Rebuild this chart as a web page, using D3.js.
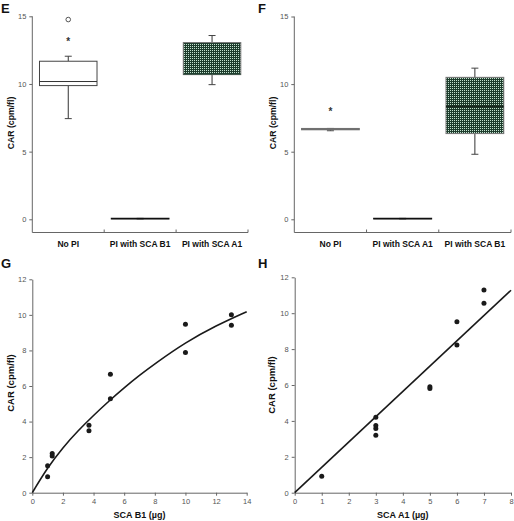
<!DOCTYPE html>
<html><head><meta charset="utf-8">
<script src="https://cdn.jsdelivr.net/npm/d3@7"></script>
<style>
body{margin:0;background:#fff;}
svg{display:block;font-family:"Liberation Sans",Arial,sans-serif;}
.tick text{fill:#555;font-size:7.5px;}
</style></head>
<body><svg id="c" width="514" height="521"></svg>
<script>
// ---------- DATA ----------
const catsE = ["No PI", "PI with SCA B1", "PI with SCA A1"];
const q1E  = [9.88, 0.03, 10.69];
const medE = [10.18, 0.05, 10.72];
const q3E  = [11.68, 0.07, 13.06];
const loE  = [7.44, 0.03, 9.95];
const hiE  = [12.05, 0.07, 13.58];
const outE = [{c: 0, v: 13.35, s: "*"}, {c: 0, v: 14.76, s: "o"}];

const catsF = ["No PI", "PI with SCA A1", "PI with SCA B1"];
const q1F  = [6.62, 0.03, 6.34];
const medF = [6.67, 0.05, 8.35];
const q3F  = [6.72, 0.07, 10.5];
const loF  = [6.55, 0.03, 4.81];
const hiF  = [6.72, 0.07, 11.18];
const outF = [{c: 0, v: 8.17, s: "*"}];

const boxTicks = [0, 5, 10, 15];

const xG = [1, 1, 1.3, 1.3, 3.7, 3.7, 5.1, 5.1, 10, 10, 13, 13];
const yG = [0.9, 1.52, 2.21, 2.06, 3.79, 3.49, 6.66, 5.29, 9.47, 7.88, 10.01, 9.41];
const fitGx = [0, 1, 2, 3, 4, 5, 6, 7, 8, 10, 12, 14];
const fitGy = [0, 1.42, 2.55, 3.5, 4.35, 5.15, 5.9, 6.6, 7.25, 8.45, 9.4, 10.18];

const xH = [1, 3, 3, 3, 3, 5, 5, 6, 6, 7, 7];
const yH = [0.91, 4.2, 3.75, 3.57, 3.2, 5.9, 5.8, 9.53, 8.23, 11.29, 10.55];
const fitHx = [0, 8];
const fitHy = [0, 11.28];

const ticksG = [0, 2, 4, 6, 8, 10, 12, 14];
const ticksH = [0, 1, 2, 3, 4, 5, 6, 7, 8];
const ticksY = [0, 2, 4, 6, 8, 10, 12];

// ---------- DRAW ----------
const svg = d3.select("#c");
const defs = svg.append("defs");
const pat = defs.append("pattern").attr("id", "grid").attr("width", 2).attr("height", 2)
  .attr("patternUnits", "userSpaceOnUse");
pat.append("rect").attr("width", 2).attr("height", 2).attr("fill", "#1d3c2c");
pat.append("rect").attr("width", 1).attr("height", 1).attr("fill", "#c4e2cf");

const AX = "#666";

function letter(x, y, t) {
  svg.append("text").attr("x", x).attr("y", y).text(t)
    .attr("font-weight", "bold").attr("font-size", 13).attr("fill", "#111");
}
function ytitle(cx, cy, t, fs) {
  svg.append("text").attr("transform", `translate(${cx},${cy}) rotate(-90)`)
    .attr("text-anchor", "middle").attr("dy", "0.35em").text(t)
    .attr("font-weight", "bold").attr("font-size", fs).attr("fill", "#111");
}

function boxPanel(o) {
  const g = svg.append("g");
  const x = d3.scaleBand().domain(o.cats).range(o.xr).paddingInner(0).paddingOuter(0);
  const y = d3.scaleLinear().domain([0, 15]).range(o.yr);
  const axisY = o.axisY;
  const ya = g.append("g").attr("transform", `translate(${o.xr[0]},0)`)
    .call(d3.axisLeft(y).tickValues(boxTicks).tickSize(3).tickPadding(3).tickSizeOuter(0));
  ya.select(".domain").remove();
  ya.selectAll(".tick line").attr("stroke", AX);
  g.append("line").attr("x1", o.xr[0]).attr("x2", o.xr[0]).attr("y1", y(15)).attr("y2", axisY)
    .attr("stroke", AX);
  g.append("line").attr("x1", o.xr[0]).attr("x2", o.xr[1]).attr("y1", axisY).attr("y2", axisY)
    .attr("stroke", AX);
  o.cats.forEach((c) => {
    g.append("line").attr("x1", x(c) + x.bandwidth()).attr("x2", x(c) + x.bandwidth())
      .attr("y1", axisY).attr("y2", axisY - 3).attr("stroke", AX);
    g.append("text").attr("x", x(c) + x.bandwidth() / 2).attr("y", axisY + 14.5)
      .attr("text-anchor", "middle").attr("font-weight", "bold").attr("font-size", 8.5)
      .attr("fill", "#111").text(c);
  });
  const bw = x.bandwidth() * 0.8;
  o.cats.forEach((c, i) => {
    const cx = x(c) + x.bandwidth() / 2;
    const st = o.style[i];
    [[o.hi[i], o.q3[i]], [o.lo[i], o.q1[i]]].forEach(([w, q]) => {
      if (Math.abs(w - q) > 0.01) {
        g.append("line").attr("x1", cx).attr("x2", cx).attr("y1", y(w)).attr("y2", y(q))
          .attr("stroke", "#333");
      }
      g.append("line").attr("x1", cx - 3.5).attr("x2", cx + 3.5).attr("y1", y(w)).attr("y2", y(w))
        .attr("stroke", "#444");
    });
    const top = y(o.q3[i]), bot = y(o.q1[i]);
    g.append("rect").attr("x", cx - bw / 2).attr("y", top).attr("width", bw)
      .attr("height", Math.max(bot - top, 0.5))
      .attr("fill", st.fill).attr("stroke", st.stroke).attr("stroke-width", st.sw);
    g.append("line").attr("x1", cx - bw / 2).attr("x2", cx + bw / 2)
      .attr("y1", y(o.med[i])).attr("y2", y(o.med[i]))
      .attr("stroke", st.medColor).attr("stroke-width", st.medW);
  });
  o.out.forEach(d => {
    const cx = x(o.cats[d.c]) + x.bandwidth() / 2;
    if (d.s === "o") {
      g.append("circle").attr("cx", cx).attr("cy", y(d.v)).attr("r", 2.3)
        .attr("fill", "none").attr("stroke", "#444").attr("stroke-width", 0.9);
    } else {
      g.append("text").attr("x", cx).attr("y", y(d.v)).attr("dy", "0.62em")
        .attr("text-anchor", "middle").attr("font-size", 10).attr("font-weight", "bold")
        .attr("fill", "#333").text("*");
    }
  });
}

boxPanel({
  cats: catsE, xr: [32.3, 248], yr: [219.3, 16.3], axisY: 232.5,
  q1: q1E, med: medE, q3: q3E, lo: loE, hi: hiE, out: outE,
  style: [
    {fill: "#fff", stroke: "#444", sw: 1, medColor: "#333", medW: 1},
    {fill: "#111", stroke: "#111", sw: 1.2, medColor: "#111", medW: 1},
    {fill: "url(#grid)", stroke: "#777", sw: 1, medColor: "#2a4a3a", medW: 1}
  ]
});
boxPanel({
  cats: catsF, xr: [294.3, 511], yr: [219.3, 16.5], axisY: 232.5,
  q1: q1F, med: medF, q3: q3F, lo: loF, hi: hiF, out: outF,
  style: [
    {fill: "#777", stroke: "#777", sw: 1, medColor: "#666", medW: 1},
    {fill: "#111", stroke: "#111", sw: 1.2, medColor: "#111", medW: 1},
    {fill: "url(#grid)", stroke: "#777", sw: 1, medColor: "#1a2a20", medW: 2}
  ]
});

letter(1, 13, "E");
letter(258, 13, "F");
ytitle(11, 123, "CAR (cpm/fl)", 8.7);
ytitle(272.7, 123, "CAR (cpm/fl)", 8.7);

function scatterPanel(o) {
  const g = svg.append("g");
  const x = d3.scaleLinear().domain([0, o.xmax]).range(o.xr);
  const y = d3.scaleLinear().domain([0, 12]).range(o.yr);
  const xa = g.append("g").attr("transform", `translate(0,${o.yr[0]})`)
    .call(d3.axisBottom(x).tickValues(o.xticks).tickSize(3).tickPadding(3).tickSizeOuter(0));
  const ya = g.append("g").attr("transform", `translate(${o.xr[0]},0)`)
    .call(d3.axisLeft(y).tickValues(ticksY).tickSize(3).tickPadding(3).tickSizeOuter(0));
  [xa, ya].forEach(a => {
    a.select(".domain").attr("stroke", AX);
    a.selectAll(".tick line").attr("stroke", AX);
    a.selectAll(".tick text").attr("font-size", 8);
  });
  const fit = o.fx.map((v, i) => [v, o.fy[i]]);
  g.append("path").datum(fit)
    .attr("d", d3.line().x(d => x(d[0])).y(d => y(d[1])).curve(d3.curveBasis))
    .attr("fill", "none").attr("stroke", "#1a1a1a").attr("stroke-width", 1.6);
  g.selectAll("circle.pt").data(o.px.map((v, i) => [v, o.py[i]])).join("circle")
    .attr("cx", d => x(d[0])).attr("cy", d => y(d[1])).attr("r", 2.5).attr("fill", "#1a1a1a");
  g.append("text").attr("x", (o.xr[0] + o.xr[1]) / 2).attr("y", o.yr[0] + 25)
    .attr("text-anchor", "middle").attr("font-weight", "bold").attr("font-size", 9)
    .attr("fill", "#111").text(o.xtitle);
}

scatterPanel({xmax: 14, xr: [32.3, 246.7], yr: [492.7, 279.3], xticks: ticksG,
  px: xG, py: yG, fx: fitGx, fy: fitGy, xtitle: "SCA B1 (\u00b5g)"});
scatterPanel({xmax: 8, xr: [294.7, 511], yr: [492.7, 277.3], xticks: ticksH,
  px: xH, py: yH, fx: fitHx, fy: fitHy, xtitle: "SCA A1 (\u00b5g)"});

letter(1, 268, "G");
letter(258, 268, "H");
ytitle(11, 383, "CAR (cpm/fl)", 9.5);
ytitle(272, 385, "CAR (cpm/fl)", 9.5);
</script></body></html>
